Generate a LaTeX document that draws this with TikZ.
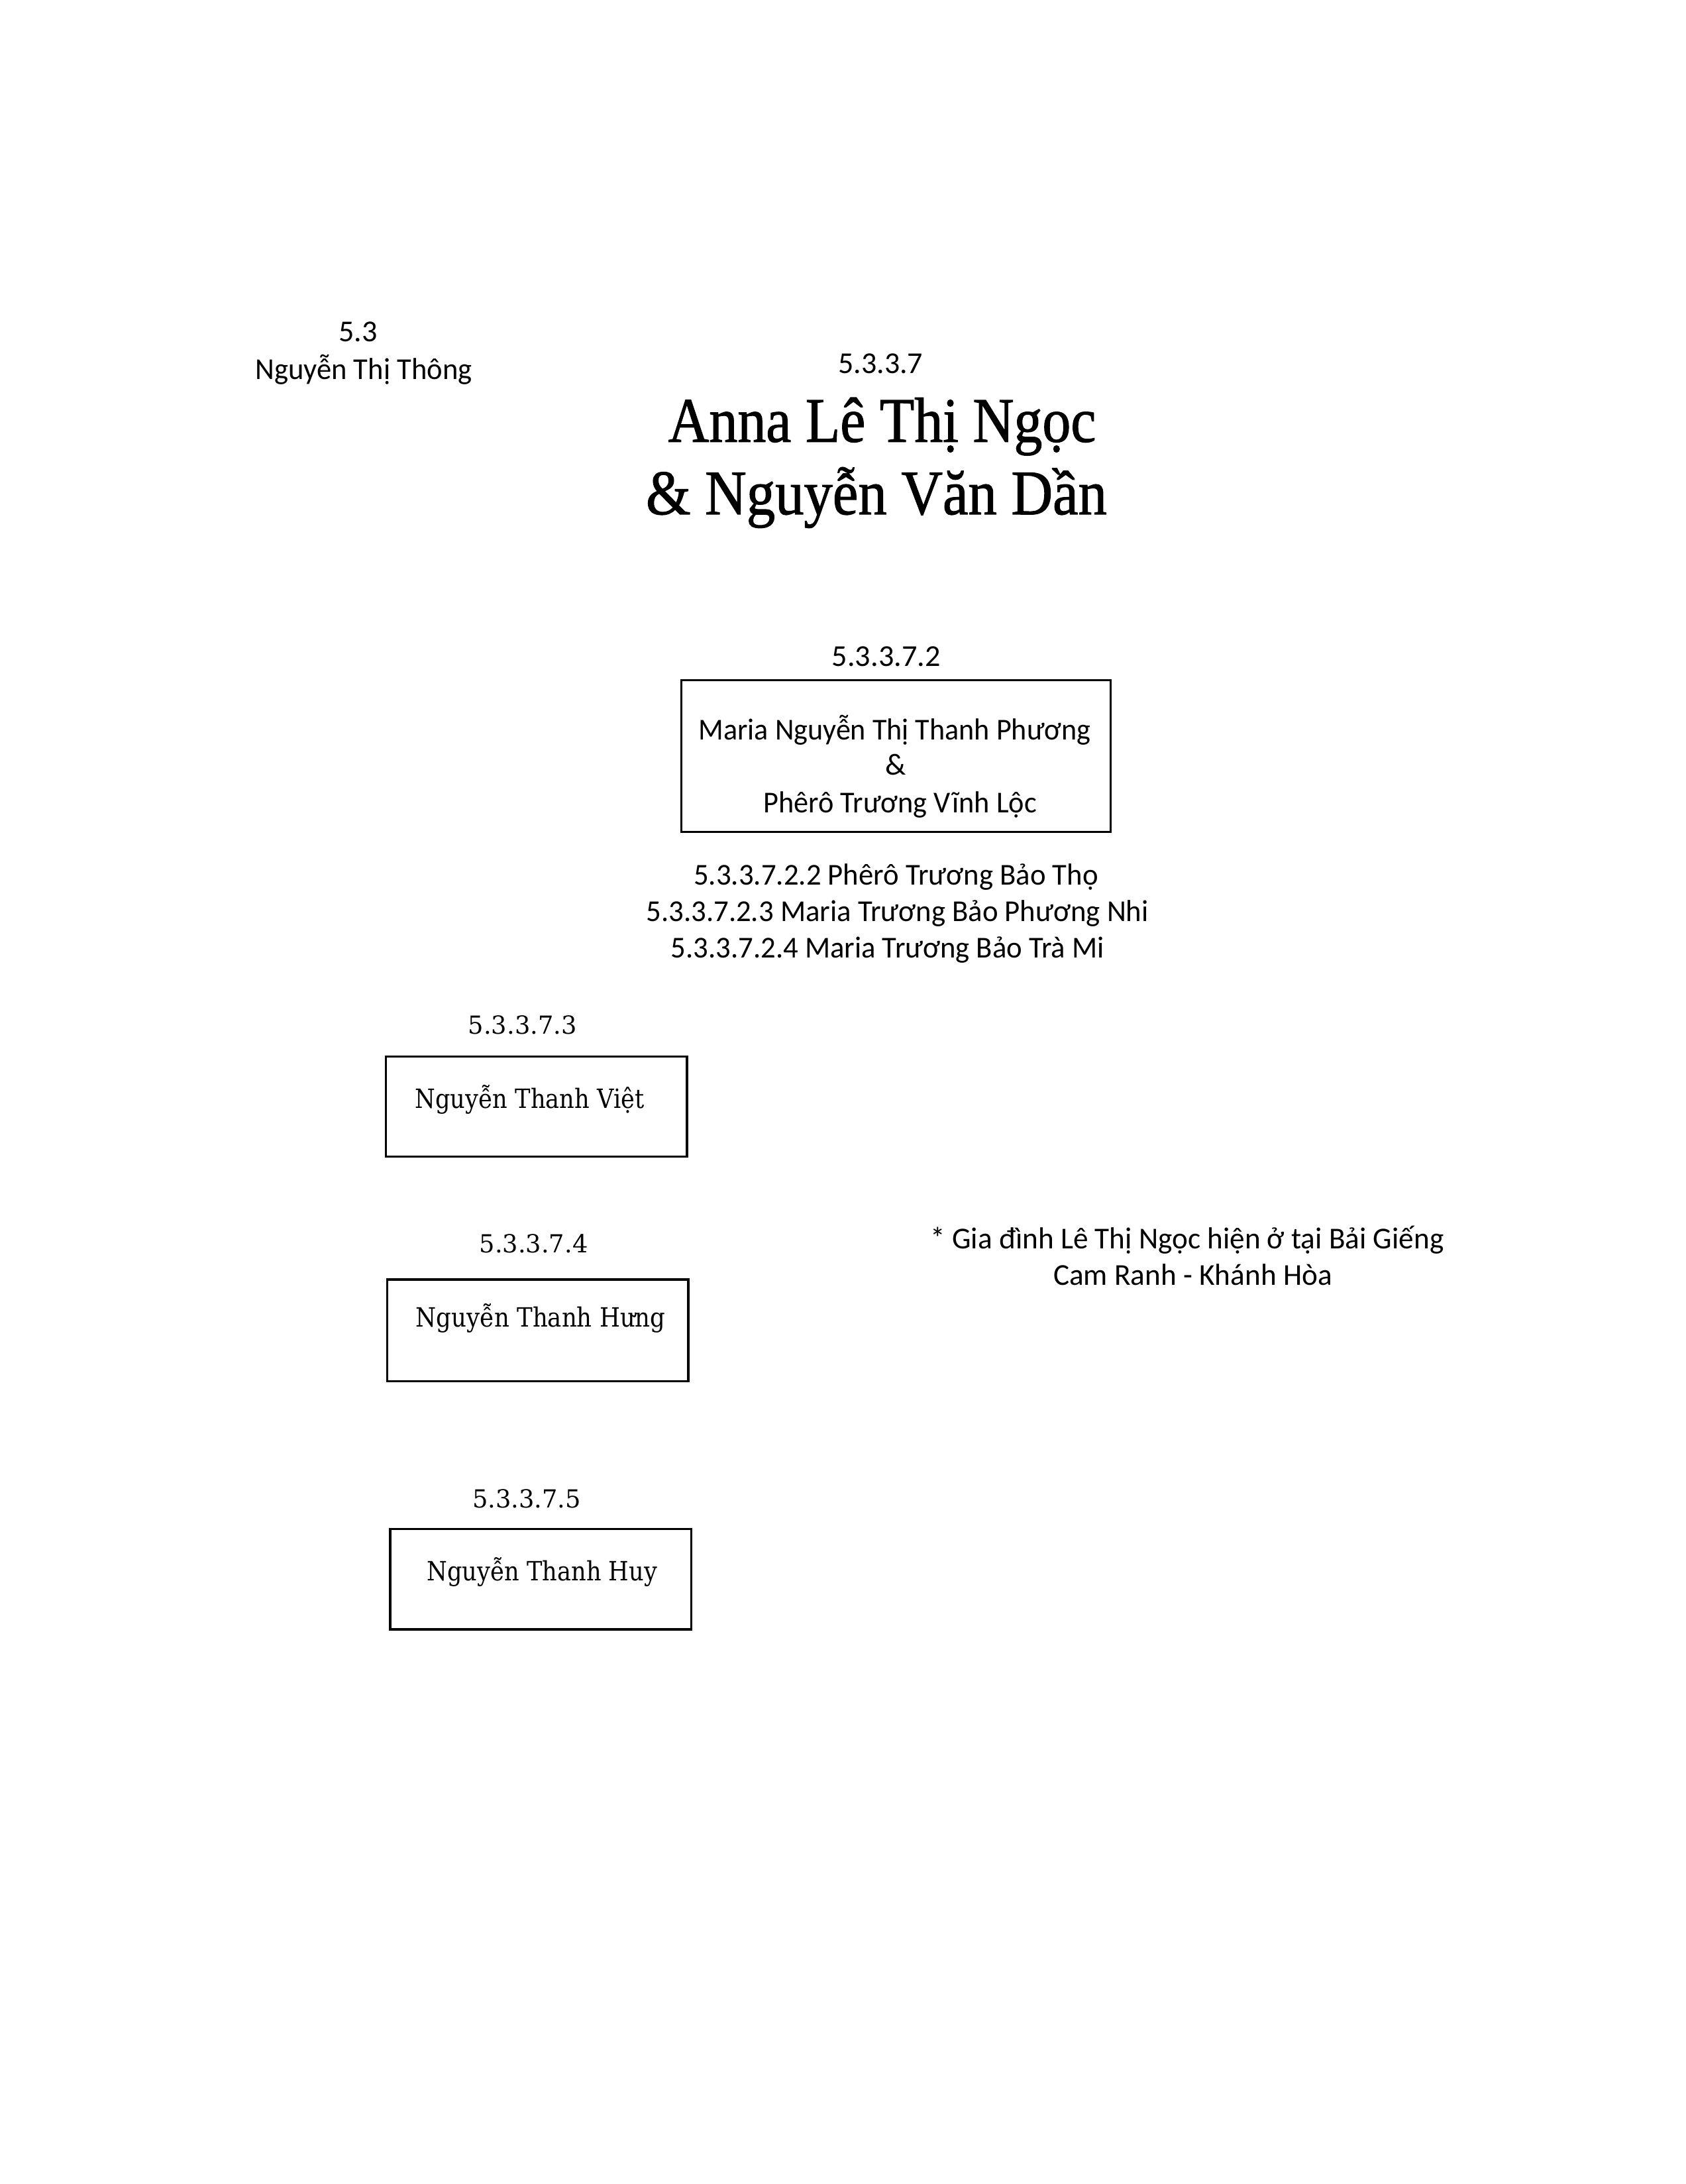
\documentclass[tikz,border=0pt]{standalone}
\usepackage{fontspec}
\setmainfont{Carlito}
\newfontfamily\titlefont[FakeBold=1.2]{Liberation Serif}
\newfontfamily\wideserif{DejaVu Serif}
\newsavebox\fitbox
\newcommand\fitw[2]{\sbox\fitbox{#2}\pgfmathsetmacro\fitfac{#1/\the\wd\fitbox}\scalebox{\fitfac}[1]{\usebox\fitbox}}
\tikzset{
  lbl/.style={anchor=base, inner sep=0pt, outer sep=0pt},
  bodyt/.style={lbl, font=\fontsize{11}{13}\selectfont},
  titlet/.style={lbl, font=\titlefont\fontsize{23}{27}\selectfont},
  numt/.style={lbl, font=\wideserif\fontsize{9}{11}\selectfont},
  namet/.style={lbl, font=\wideserif\fontsize{9.6}{12}\selectfont},
  boxst/.style={draw, line width=0.8pt}
}
\begin{document}
\begin{tikzpicture}[x=0.5048pt, y=-0.5048pt]
\useasboundingbox (0pt,0pt) rectangle (610.56pt,-791.04pt);
% top-left
\node[bodyt] (n53) at (257,245) {\fitw{14pt}{5.3}};
\node[bodyt] (thong) at (261,272) {\fitw{78.5pt}{Nguyễn Thị Thông}};
% main couple
\node[bodyt] (n5337) at (632,268) {\fitw{30.7pt}{5.3.3.7}};
\node[titlet] (t1) at (633,317) {\fitw{155pt}{Anna Lê Thị Ngọc}};
\node[titlet] (t2) at (629,369) {\fitw{167pt}{\& Nguyễn Văn Dần}};
% 5.3.3.7.2
\node[bodyt] (n2) at (636,478) {\fitw{39.3pt}{5.3.3.7.2}};
\draw[boxst] (489,488) coordinate (b2a) rectangle (797,597) coordinate (b2b);
\node[bodyt] (p1) at (642,531) {\fitw{142pt}{Maria Nguyễn Thị Thanh Phương}};
\node[bodyt] (p2) at (643,556) {\&};
\node[bodyt] (p3) at (646,583) {\fitw{99pt}{Phêrô Trương Vĩnh Lộc}};
\node[bodyt] (c2) at (643,635) {\fitw{146.5pt}{5.3.3.7.2.2 Phêrô Trương Bảo Thọ}};
\node[bodyt] (c3) at (644,661) {\fitw{182pt}{5.3.3.7.2.3 Maria Trương Bảo Phương Nhi}};
\node[bodyt] (c4) at (637,687) {\fitw{157pt}{5.3.3.7.2.4 Maria Trương Bảo Trà Mi}};
% 5.3.3.7.3
\node[numt] (n3) at (375,742) {\fitw{39.3pt}{5.3.3.7.3}};
\draw[boxst] (277,758) coordinate (b3a) rectangle (493,830) coordinate (b3b);
\node[namet] (v3) at (380,795) {\fitw{83pt}{Nguyễn Thanh Việt}};
% 5.3.3.7.4
\node[numt] (n4) at (383,899) {\fitw{39.3pt}{5.3.3.7.4}};
\draw[boxst] (278,918) coordinate (b4a) rectangle (494,991) coordinate (b4b);
\node[namet] (v4) at (388,952) {\fitw{90.5pt}{Nguyễn Thanh Hưng}};
% 5.3.3.7.5
\node[numt] (n5) at (378,1082) {\fitw{39.3pt}{5.3.3.7.5}};
\draw[boxst] (280,1097) coordinate (b5a) rectangle (496,1169) coordinate (b5b);
\node[namet] (v5) at (389,1134) {\fitw{83.5pt}{Nguyễn Thanh Huy}};
% note
\node[bodyt] (note1) at (852,896) {\fitw{186pt}{* Gia đình Lê Thị Ngọc hiện ở tại Bải Giếng}};
\node[bodyt] (note2) at (856,922) {\fitw{101pt}{Cam Ranh - Khánh Hòa}};
\end{tikzpicture}
\end{document}
